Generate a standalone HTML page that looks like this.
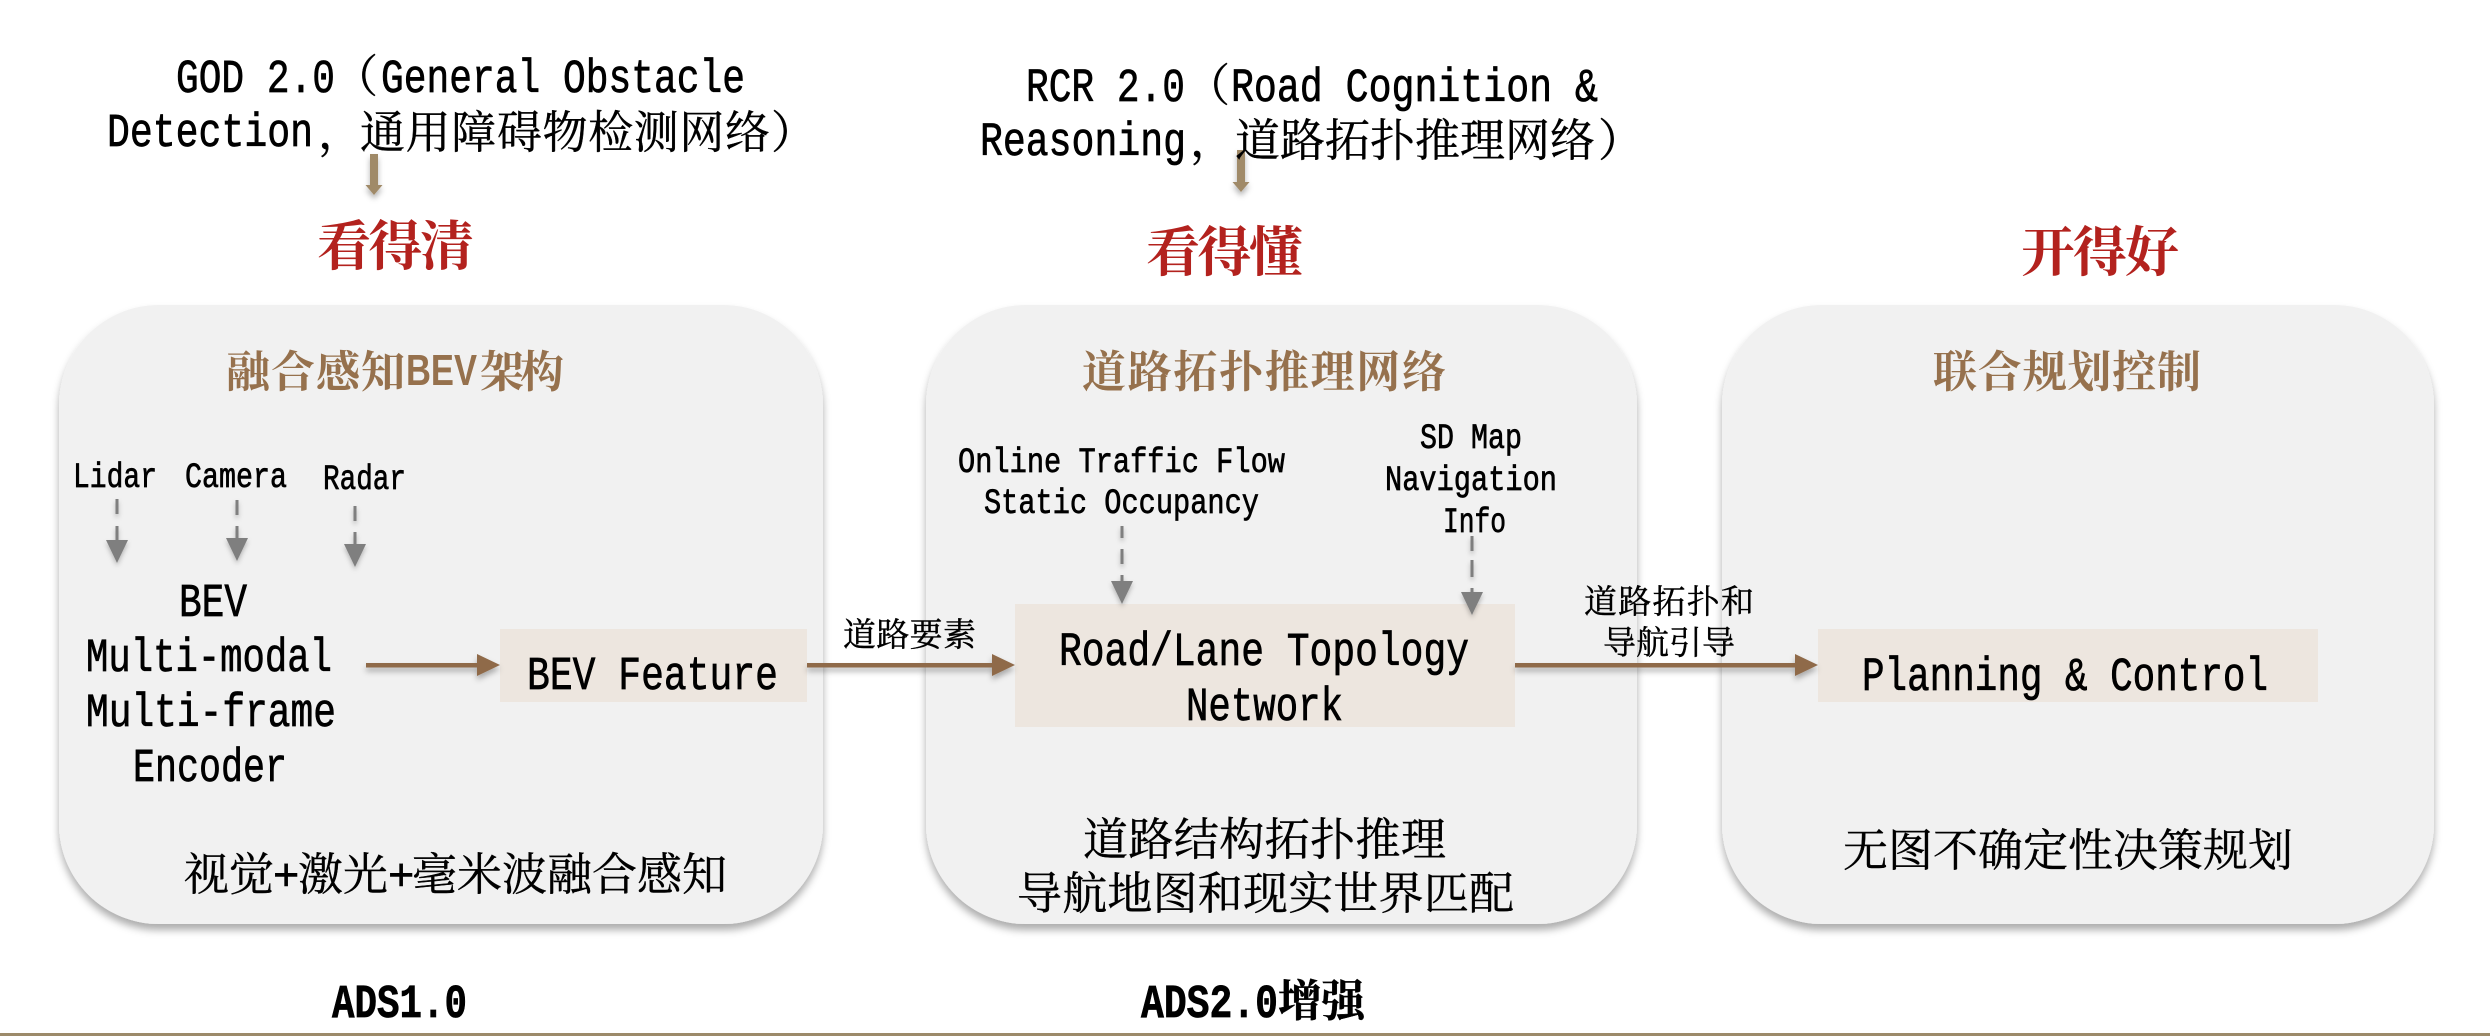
<!DOCTYPE html>
<html lang="zh">
<head>
<meta charset="utf-8">
<title>ADS</title>
<style>
html,body{margin:0;padding:0;background:#fff;width:2490px;height:1036px;overflow:hidden}
#s{position:absolute;left:0;top:0}
.m{font-family:"Liberation Mono","Noto Sans CJK SC",monospace;fill:#000;stroke:#000;stroke-width:.7}
.c{font-family:"Liberation Sans","Noto Serif CJK SC",serif;fill:#000;stroke:#000;stroke-width:.4}
.r{fill:#b3221e;stroke:none;font-weight:700}
.t{fill:#96714d;stroke:none;font-weight:700}
</style>
</head>
<body>
<svg id="s" width="2490" height="1036" viewBox="0 0 2490 1036" xmlns="http://www.w3.org/2000/svg">
<defs>
<filter id="ps" x="-10%" y="-10%" width="120%" height="120%"><feDropShadow dx="0" dy="6" stdDeviation="4" flood-color="#000" flood-opacity=".32"/></filter>
<filter id="as" x="-30%" y="-60%" width="160%" height="260%"><feDropShadow dx="0" dy="4" stdDeviation="3" flood-color="#000" flood-opacity=".3"/></filter>
<filter id="gs" x="-100%" y="-30%" width="300%" height="160%"><feDropShadow dx="0" dy="3" stdDeviation="2.5" flood-color="#000" flood-opacity=".25"/></filter>
</defs>

<rect x="0" y="1033" width="2490" height="3" fill="#9c8a6a"/>

<g fill="#f1f1f1" filter="url(#ps)">
<rect x="59" y="305" width="764" height="619" rx="100" ry="100"/>
<rect x="926" y="305" width="711" height="619" rx="100" ry="100"/>
<rect x="1722" y="305" width="712" height="619" rx="100" ry="100"/>
</g>

<g fill="#ede6df">
<rect x="500" y="629" width="307" height="73"/>
<rect x="1015" y="604" width="500" height="123"/>
<rect x="1818" y="629" width="500" height="73"/>
</g>

<g filter="url(#as)" fill="#a08a68">
<rect x="370" y="154" width="8" height="32"/><polygon points="365.500,185 382.500,185 374,195"/>
<rect x="1237" y="150" width="8" height="33"/><polygon points="1232.500,182 1249.500,182 1241,192"/>
</g>

<g filter="url(#as)" fill="#8f6b4a">
<rect x="366" y="663" width="112" height="4.500"/><polygon points="477,654 500,665 477,676"/>
<rect x="807" y="663" width="186" height="4.500"/><polygon points="992,654 1015,665 992,676"/>
<rect x="1515" y="663" width="281" height="4.500"/><polygon points="1795,654 1818,665 1795,676"/>
</g>

<g filter="url(#gs)" fill="#7f7f7f" stroke="none">
<rect x="115.500" y="499" width="3" height="15"/><rect x="115.500" y="526" width="3" height="15"/><polygon points="106,540 128,540 117,563"/>
<rect x="235.500" y="500" width="3" height="15"/><rect x="235.500" y="526" width="3" height="13"/><polygon points="226,538 248,538 237,561"/>
<rect x="353.500" y="506" width="3" height="15"/><rect x="353.500" y="532" width="3" height="13"/><polygon points="344,544 366,544 355,567"/>
<rect x="1120.500" y="526" width="3" height="12"/><rect x="1120.500" y="549" width="3" height="15"/><rect x="1120.500" y="575" width="3" height="7"/><polygon points="1111,581 1133,581 1122,604"/>
<rect x="1470.500" y="536" width="3" height="15"/><rect x="1470.500" y="560" width="3" height="17"/><rect x="1470.500" y="588" width="3" height="5"/><polygon points="1461,592 1483,592 1472,615"/>
</g>

<!-- top headings -->
<g class="m" font-size="47">
<text x="176" y="92" textLength="159" lengthAdjust="spacingAndGlyphs">GOD 2.0</text>
<text x="381" y="92" textLength="364" lengthAdjust="spacingAndGlyphs">General Obstacle</text>
<text x="107" y="146" textLength="206" lengthAdjust="spacingAndGlyphs">Detection</text>
<text x="1026" y="101" textLength="159" lengthAdjust="spacingAndGlyphs">RCR 2.0</text>
<text x="1231" y="101" textLength="367" lengthAdjust="spacingAndGlyphs">Road Cognition &amp;</text>
<text x="980" y="155" textLength="206" lengthAdjust="spacingAndGlyphs">Reasoning</text>
</g>
<g class="c" font-size="45">
<text x="333" y="92">（</text>
<text x="318" y="148">，</text>
<text x="360" y="148" textLength="410" lengthAdjust="spacing">通用障碍物检测网络</text>
<text x="771" y="148">）</text>
<text x="1185" y="101">（</text>
<text x="1190" y="156">，</text>
<text x="1235" y="156" textLength="360" lengthAdjust="spacing">道路拓扑推理网络</text>
<text x="1598" y="156">）</text>
</g>

<g class="c r" font-size="54">
<text x="317" y="265" textLength="157" lengthAdjust="spacing">看得清</text>
<text x="1146" y="271" textLength="157" lengthAdjust="spacing">看得懂</text>
<text x="2021" y="271" textLength="158" lengthAdjust="spacing">开得好</text>
</g>

<g class="c t" font-size="44">
<text x="226" y="387" textLength="179" lengthAdjust="spacing">融合感知</text>
<text x="406" y="385" textLength="71" lengthAdjust="spacingAndGlyphs" style="font-family:'Liberation Sans',sans-serif">BEV</text>
<text x="480" y="387" textLength="84" lengthAdjust="spacing">架构</text>
<text x="1082" y="387" textLength="364" lengthAdjust="spacing">道路拓扑推理网络</text>
<text x="1933" y="387" textLength="268" lengthAdjust="spacing">联合规划控制</text>
</g>

<g class="m" font-size="35">
<text x="73" y="487" textLength="84" lengthAdjust="spacingAndGlyphs">Lidar</text>
<text x="185" y="487" textLength="102" lengthAdjust="spacingAndGlyphs">Camera</text>
<text x="323" y="489" textLength="83" lengthAdjust="spacingAndGlyphs">Radar</text>
<text x="958" y="472" textLength="327" lengthAdjust="spacingAndGlyphs">Online Traffic Flow</text>
<text x="984" y="513" textLength="275" lengthAdjust="spacingAndGlyphs">Static Occupancy</text>
<text x="1420" y="448" textLength="102" lengthAdjust="spacingAndGlyphs">SD Map</text>
<text x="1385" y="490" textLength="172" lengthAdjust="spacingAndGlyphs">Navigation</text>
<text x="1443" y="532" textLength="63" lengthAdjust="spacingAndGlyphs">Info</text>
</g>

<g class="m" font-size="47">
<text x="179" y="616" textLength="68" lengthAdjust="spacingAndGlyphs">BEV</text>
<text x="86" y="671" textLength="246" lengthAdjust="spacingAndGlyphs">Multi-modal</text>
<text x="86" y="726" textLength="250" lengthAdjust="spacingAndGlyphs">Multi-frame</text>
<text x="133" y="781" textLength="154" lengthAdjust="spacingAndGlyphs">Encoder</text>
<text x="527" y="689" textLength="251" lengthAdjust="spacingAndGlyphs">BEV Feature</text>
<text x="1059" y="665" textLength="410" lengthAdjust="spacingAndGlyphs">Road/Lane Topology</text>
<text x="1186" y="720" textLength="157" lengthAdjust="spacingAndGlyphs">Network</text>
<text x="1862" y="690" textLength="406" lengthAdjust="spacingAndGlyphs">Planning &amp; Control</text>
</g>

<g class="c" font-size="45">
<text x="184 229 273 298 343 388 412 457 502 547 592 637 682" y="890">视觉+激光+毫米波融合感知</text>
<text x="1083" y="855" textLength="363" lengthAdjust="spacing">道路结构拓扑推理</text>
<text x="1017" y="909" textLength="497" lengthAdjust="spacing">导航地图和现实世界匹配</text>
<text x="1843" y="866" textLength="450" lengthAdjust="spacing">无图不确定性决策规划</text>
</g>

<g class="c" font-size="33">
<text x="843" y="646" textLength="133" lengthAdjust="spacing">道路要素</text>
<text x="1584" y="613" textLength="170" lengthAdjust="spacing">道路拓扑和</text>
<text x="1603" y="654" textLength="132" lengthAdjust="spacing">导航引导</text>
</g>

<g class="m" font-size="47" font-weight="700">
<text x="332" y="1017" textLength="135" lengthAdjust="spacingAndGlyphs">ADS1.0</text>
<text x="1141" y="1017" textLength="137" lengthAdjust="spacingAndGlyphs">ADS2.0</text>
</g>
<text class="c" x="1278" y="1016" font-size="44" font-weight="700" textLength="87" lengthAdjust="spacing">增强</text>
</svg>
</body>
</html>
